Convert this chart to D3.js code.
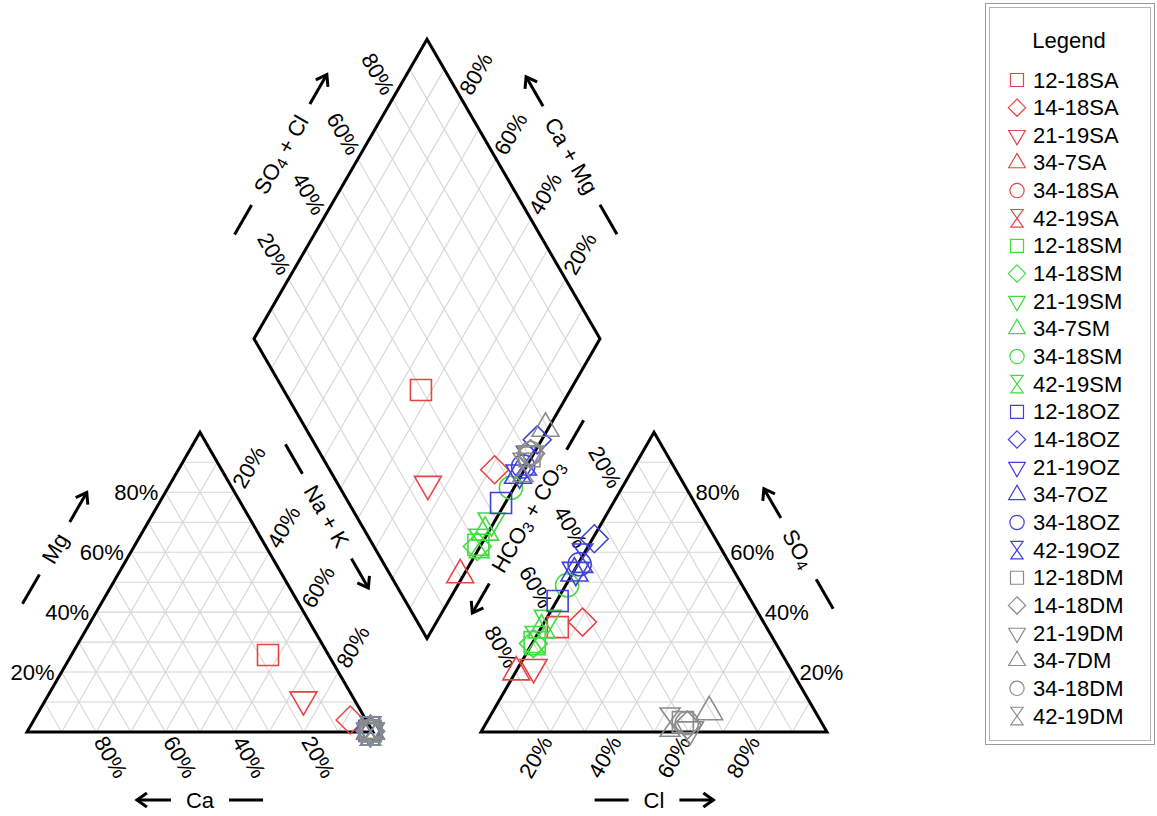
<!DOCTYPE html>
<html>
<head>
<meta charset="utf-8">
<script src="https://cdn.jsdelivr.net/npm/d3@7/dist/d3.min.js"></script>
<style>
  html, body { margin: 0; padding: 0; background: #fff; }
  svg { display: block; }
  text { font-family: Arial, "Liberation Sans", Helvetica, sans-serif; fill: #000; }
</style>
</head>
<body>
<svg id="piper" width="1157" height="816"></svg>
<script>
// ---- Samples: six sites, four sampling groups ----
const sites = ["12-18", "14-18", "21-19", "34-7", "34-18", "42-19"];
const groups = ["SA", "SM", "OZ", "DM"];
const groupColors = ["#e64545", "#40dc40", "#4040dc", "#8c8c8c"];
const siteShapes = ["square", "diamond", "triDown", "triUp", "circle", "hourglass"];

// Cation composition, percent of meq (order: SA x6, SM x6, OZ x6, DM x6)
const caPct = [
  17.5, 4.6, 14.7, 0.6, null, null,
  0.5, 0.6, 0.7, 0.5, 0.6, 0.5,
  0.8, 0.8, 0.6, 0.6, 0.5, 0.6,
  0.5, 0.6, 0.5, 0.5, 0.6, 0.5
];
const mgPct = [
  25.7, 4.0, 10.8, 0.4, null, null,
  0.3, 0.2, 0.3, 0.4, 0.3, 0.3,
  0.4, 0.5, 0.3, 0.3, 0.4, 0.3,
  0.3, 0.3, 0.3, 0.3, 0.3, 0.3
];
const nakPct = [
  56.8, 91.4, 74.5, 99.0, null, null,
  99.2, 99.2, 99.0, 99.1, 99.1, 99.2,
  98.8, 98.7, 99.1, 99.1, 99.1, 99.1,
  99.2, 99.1, 99.2, 99.2, 99.1, 99.2
];
// Anion composition, percent of meq
const hco3Pct = [
  60.3, 52.3, 74.0, 79.8, null, null,
  69.5, 70.1, 61.7, 65.5, 50.6, 69.1,
  56.0, 35.0, 45.6, 46.5, 43.5, 41.6,
  40.0, 39.2, 39.2, 30.7, 39.0, 43.7
];
const so4Pct = [
  35.0, 36.7, 21.6, 20.0, null, null,
  30.0, 29.5, 38.0, 34.0, 49.0, 30.5,
  43.7, 64.5, 54.0, 53.0, 56.0, 58.0,
  3.3, 2.3, 0.8, 6.7, 3.0, 3.3
];
const clPct = [
  4.7, 11.0, 4.4, 0.2, null, null,
  0.5, 0.4, 0.3, 0.5, 0.4, 0.4,
  0.3, 0.5, 0.4, 0.5, 0.5, 0.4,
  56.7, 58.5, 60.0, 62.6, 58.0, 53.0
];

const tickValues = [20, 40, 60, 80];
const gridValues = d3.range(10, 100, 10);

// ---- Layout ----
const svg = d3.select("#piper");
const side = 346, gap = 108, left = 27, base = 732;
const rt3 = Math.sqrt(3);
const ht = side * rt3 / 2;

// Percent -> pixel scales for each part of the diagram
const catX = d3.scaleLinear().domain([0, 100]).range([left, left + side]);
const anX = d3.scaleLinear().domain([0, 100]).range([left + side + gap, left + 2 * side + gap]);
const triY = d3.scaleLinear().domain([0, 100]).range([base, base - ht]);
const diaX0 = left + side + gap / 2;
const diaY0 = base - gap * rt3 / 2;
const diaDX = d3.scaleLinear().domain([-100, 100]).range([diaX0 - side / 2, diaX0 + side / 2]);
const diaY = d3.scaleLinear().domain([0, 200]).range([diaY0, diaY0 - 2 * ht]);

function norm3(a, b, c) { const t = a + b + c; return [100 * a / t, 100 * b / t, 100 * c / t]; }
// cation point: Ca bottom-left, Mg top, Na+K bottom-right
function catPt(ca, mg, na) { [ca, mg, na] = norm3(ca, mg, na); return [catX(na + mg / 2), triY(mg)]; }
// anion point: HCO3 bottom-left, SO4 top, Cl bottom-right
function anPt(hco3, so4, cl) { [hco3, so4, cl] = norm3(hco3, so4, cl); return [anX(cl + so4 / 2), triY(so4)]; }
// diamond point from SO4+Cl (A) and Ca+Mg (C)
function diaPt(A, C) { return [diaDX(A - C), diaY(A + C)]; }

const line = d3.line();
const gGrid = svg.append("g").attr("stroke", "#d6d6d6").attr("stroke-width", 1.1).attr("fill", "none");
gridValues.forEach(v => {
  const w = 100 - v;
  // cation triangle
  gGrid.append("path").attr("d", line([catPt(w, v, 0), catPt(0, v, w)]));
  gGrid.append("path").attr("d", line([catPt(w, 0, v), catPt(0, w, v)]));
  gGrid.append("path").attr("d", line([catPt(v, 0, w), catPt(v, w, 0)]));
  // anion triangle
  gGrid.append("path").attr("d", line([anPt(w, v, 0), anPt(0, v, w)]));
  gGrid.append("path").attr("d", line([anPt(w, 0, v), anPt(0, w, v)]));
  gGrid.append("path").attr("d", line([anPt(v, 0, w), anPt(v, w, 0)]));
  // diamond
  gGrid.append("path").attr("d", line([diaPt(v, 0), diaPt(v, 100)]));
  gGrid.append("path").attr("d", line([diaPt(0, v), diaPt(100, v)]));
});

// outlines
const gOut = svg.append("g").attr("stroke", "#000").attr("stroke-width", 3).attr("fill", "none").attr("stroke-linejoin", "miter");
gOut.append("path").attr("d", line([catPt(100, 0, 0), catPt(0, 100, 0), catPt(0, 0, 100)]) + "Z");
gOut.append("path").attr("d", line([anPt(100, 0, 0), anPt(0, 100, 0), anPt(0, 0, 100)]) + "Z");
gOut.append("path").attr("d", line([diaPt(0, 0), diaPt(100, 0), diaPt(100, 100), diaPt(0, 100)]) + "Z");

// ---- Tick labels ----
const tickFont = 22;
const gTick = svg.append("g").attr("font-size", tickFont);
const pad = 7;
function tick(pt, angle, anchor, dirx, diry, label) {
  const x = pt[0] + dirx * pad, y = pt[1] + diry * pad;
  gTick.append("text")
    .attr("transform", `translate(${x},${y}) rotate(${angle})`)
    .attr("text-anchor", anchor)
    .attr("dominant-baseline", "central")
    .text(label);
}
const c60 = 0.5, s60 = rt3 / 2;
tickValues.forEach(v => {
  const lab = v + "%";
  tick(catPt(100 - v, v, 0), 0, "end", -1, 0, lab);                 // Mg
  tick(catPt(v, 0, 100 - v), 60, "start", c60, s60, lab);           // Ca
  tick(catPt(0, 100 - v, v), -60, "start", c60, -s60, lab);         // Na + K
  tick(anPt(100 - v, 0, v), -60, "end", -c60, s60, lab);            // Cl
  tick(anPt(0, v, 100 - v), 0, "start", 1, 0, lab);                 // SO4
  tick(anPt(v, 100 - v, 0), 60, "end", -c60, -s60, lab);            // HCO3 + CO3
  tick(diaPt(v, 100), 60, "end", -c60, -s60, lab);                  // SO4 + Cl
  tick(diaPt(100, v), -60, "start", c60, -s60, lab);                // Ca + Mg
});

// ---- Axis titles with dash and direction arrow ----
const titleFont = 22;
const gTitle = svg.append("g");
function axisTitle(cx, cy, angle, parts, arrowForward) {
  const g = gTitle.append("g").attr("transform", `translate(${cx},${cy}) rotate(${angle})`);
  const t = g.append("text").attr("font-size", titleFont).attr("text-anchor", "middle")
    .attr("dominant-baseline", "central");
  parts.forEach(p => {
    const ts = t.append("tspan").text(p.t);
    if (p.sub) ts.attr("font-size", titleFont * 0.72).attr("dy", 5);
    else if (p.after) ts.attr("dy", -5);
  });
  const w = t.node().getComputedTextLength();
  const g0 = w / 2 + 15, len = 34;
  const fwd = arrowForward ? 1 : -1;
  // dash on the opposite side
  g.append("line").attr("x1", -fwd * g0).attr("x2", -fwd * (g0 + len)).attr("y1", 0).attr("y2", 0)
    .attr("stroke", "#000").attr("stroke-width", 3);
  // arrow pointing away from the text
  const a0 = fwd * g0, a1 = fwd * (g0 + len);
  g.append("line").attr("x1", a0).attr("x2", a1).attr("y1", 0).attr("y2", 0)
    .attr("stroke", "#000").attr("stroke-width", 3);
  g.append("path").attr("d", `M${a1 - fwd * 10},-7 L${a1},0 L${a1 - fwd * 10},7`)
    .attr("fill", "none").attr("stroke", "#000").attr("stroke-width", 3).attr("stroke-linejoin", "miter");
}
function offsetFrom(p, q, nOff, along) {
  // midpoint of edge p->q, pushed to the left of the direction p->q by nOff and along the edge by 'along'
  const dx = q[0] - p[0], dy = q[1] - p[1], L = Math.hypot(dx, dy);
  const ux = dx / L, uy = dy / L;
  return [(p[0] + q[0]) / 2 + uy * nOff + ux * along, (p[1] + q[1]) / 2 - ux * nOff + uy * along];
}
let c;
c = offsetFrom(catPt(100, 0, 0), catPt(0, 100, 0), 68, 0);
axisTitle(c[0], c[1], -60, [{ t: "Mg" }], true);
c = offsetFrom(catPt(0, 0, 100), catPt(100, 0, 0), 68, 0);
axisTitle(c[0], c[1], 0, [{ t: "Ca" }], false);
c = offsetFrom(catPt(0, 100, 0), catPt(0, 0, 100), 68, -37);
axisTitle(c[0], c[1], 60, [{ t: "Na + K" }], true);
c = offsetFrom(anPt(0, 0, 100), anPt(100, 0, 0), 68, 0);
axisTitle(c[0], c[1], 0, [{ t: "Cl" }], true);
c = offsetFrom(anPt(0, 100, 0), anPt(0, 0, 100), 67, 0);
axisTitle(c[0], c[1], 60, [{ t: "SO" }, { t: "4", sub: true }], false);
c = offsetFrom(anPt(100, 0, 0), anPt(0, 100, 0), 67, 37);
axisTitle(c[0], c[1], -60, [{ t: "HCO" }, { t: "3", sub: true }, { t: " + CO", after: true }, { t: "3", sub: true }], false);
c = offsetFrom(diaPt(0, 100), diaPt(100, 100), 69, 0);
axisTitle(c[0], c[1], -60, [{ t: "SO" }, { t: "4", sub: true }, { t: " + Cl", after: true }], true);
c = offsetFrom(diaPt(100, 100), diaPt(100, 0), 67, 0);
axisTitle(c[0], c[1], 60, [{ t: "Ca + Mg" }], false);

// ---- Markers ----
function shapePath(kind, r) {
  const p = d3.path();
  if (kind === "square") { p.rect(-r, -r, 2 * r, 2 * r); }
  else if (kind === "diamond") { const d = r * 1.33; p.moveTo(0, -d); p.lineTo(d, 0); p.lineTo(0, d); p.lineTo(-d, 0); p.closePath(); }
  else if (kind === "circle") { p.arc(0, 0, r * 1.1, 0, 2 * Math.PI); }
  else if (kind === "triUp" || kind === "triDown") {
    const R = r * 1.48, s = kind === "triUp" ? 1 : -1;
    p.moveTo(0, -s * R); p.lineTo(R * s60, s * R / 2); p.lineTo(-R * s60, s * R / 2); p.closePath();
  } else if (kind === "hourglass") {
    const hw = r * 0.95, hh = r * 1.35;
    p.moveTo(-hw, -hh); p.lineTo(hw, -hh); p.lineTo(-hw, hh); p.lineTo(hw, hh); p.closePath();
  }
  return p.toString();
}

const samples = [];
groups.forEach((g, gi) => sites.forEach((s, si) => {
  const i = gi * sites.length + si;
  samples.push({
    name: s + g, color: groupColors[gi], shape: siteShapes[si],
    ca: caPct[i], mg: mgPct[i], na: nakPct[i], hco3: hco3Pct[i], so4: so4Pct[i], cl: clPct[i]
  });
}));
const plotted = samples.filter(d => d.ca != null && d.so4 != null);

const markR = 10.5;
const gPts = svg.append("g").attr("fill", "none").attr("stroke-width", 1.6);
plotted.forEach(d => {
  const [ca, mg, na] = norm3(d.ca, d.mg, d.na);
  const [hc, so, cl] = norm3(d.hco3, d.so4, d.cl);
  const pts = [catPt(ca, mg, na), anPt(hc, so, cl), diaPt(so + cl, ca + mg)];
  pts.forEach(p => {
    gPts.append("path").attr("d", shapePath(d.shape, markR))
      .attr("transform", `translate(${p[0]},${p[1]})`)
      .attr("stroke", d.color);
  });
});

// ---- Legend ----
const gLeg = svg.append("g");
gLeg.append("rect").attr("x", 985.5).attr("y", 3.5).attr("width", 169).attr("height", 741)
  .attr("fill", "#fff").attr("stroke", "#9a9a9a").attr("stroke-width", 1);
gLeg.append("rect").attr("x", 989.5).attr("y", 7.5).attr("width", 161).attr("height", 733)
  .attr("fill", "none").attr("stroke", "#b4b4b4").attr("stroke-width", 1);
gLeg.append("text").attr("x", 1069).attr("y", 40).attr("text-anchor", "middle")
  .attr("dominant-baseline", "central").attr("font-size", 22).text("Legend");
const legY = d3.scalePoint().domain(samples.map(d => d.name)).range([80, 716]);
samples.forEach(d => {
  const y = legY(d.name);
  gLeg.append("path").attr("d", shapePath(d.shape, 6.5))
    .attr("transform", `translate(1017,${y})`)
    .attr("fill", "none").attr("stroke", d.color).attr("stroke-width", 1.2);
  gLeg.append("text").attr("x", 1033).attr("y", y).attr("dominant-baseline", "central")
    .attr("font-size", 22).text(d.name);
});
</script>
</body>
</html>
